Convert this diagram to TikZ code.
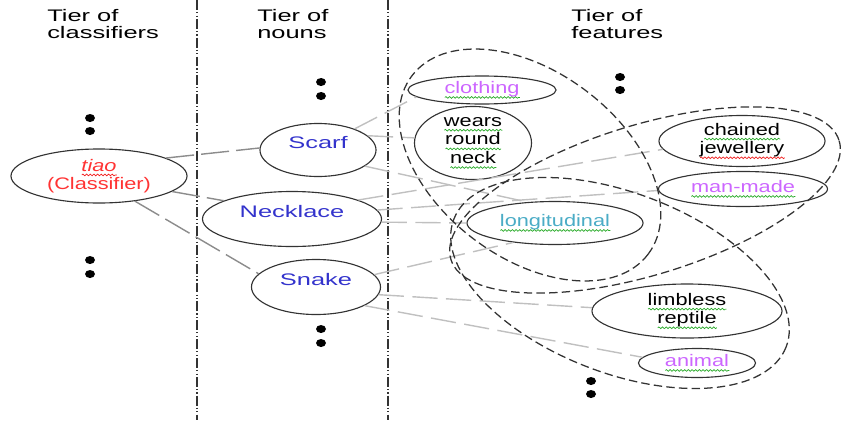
\documentclass[tikz,border=0pt]{standalone}
\usepackage{fontspec}
\setmainfont{Liberation Sans}[FakeStretch=1.52]
\newfontfamily\narrowfont{Liberation Sans}[FakeStretch=1.3]
\usepackage{xcolor}
\usepackage{tikz}
\usetikzlibrary{shapes.geometric,decorations.pathmorphing}

\definecolor{tiaored}{RGB}{255,51,51}
\definecolor{nounblue}{RGB}{51,51,204}
\definecolor{featviolet}{RGB}{204,102,255}
\definecolor{featteal}{RGB}{75,172,198}
\definecolor{wavegreen}{RGB}{40,170,40}
\definecolor{wavered}{RGB}{240,30,30}
\definecolor{rimgray}{RGB}{51,51,51}
\definecolor{linkgray}{RGB}{140,140,140}
\definecolor{featgray}{RGB}{192,192,192}

% spell-check style wavy underline
\newcommand\wavyword[2]{\setbox0\hbox{#2}\leavevmode\rlap{\tikz[baseline=0pt]\draw[#1, line width=0.5pt, decorate, decoration={snake, amplitude=0.6pt, segment length=2.6pt}] (0pt,-2.8pt) -- (\the\wd0,-2.8pt);}\box0}
\newcommand\gwave[1]{\wavyword{wavegreen}{#1}}
\newcommand\rwave[1]{\wavyword{wavered}{#1}}

\begin{document}
\begin{tikzpicture}[x=0.025cm, y=-0.025cm,
    every node/.style={font=\fontsize{11.9}{11.9}\selectfont},
    tier/.style={anchor=north west, align=left, inner sep=0pt},
    oval/.style={ellipse, draw=rimgray, line width=0.8pt, inner sep=0pt, align=center},
    feat/.style={oval, font=\fontsize{11.9}{11.9}\selectfont\narrowfont},
    noun/.style={oval, text=nounblue, text height=0.3cm, text depth=0.4cm},
    sepline/.style={draw=rimgray, line width=0.8pt, dash pattern=on 7pt off 1.5pt on 0.8pt off 1.8pt on 0.8pt off 1.5pt},
    classlink/.style={draw=linkgray, line width=1pt, dash pattern=on 20pt off 5pt},
    featlink/.style={draw=featgray, line width=1pt, dash pattern=on 18pt off 6pt},
    group/.style={draw=rimgray, line width=0.9pt, dash pattern=on 6pt off 3pt}]
    \useasboundingbox (0,0) rectangle (841,428);

    % tier headings and separators
    \node[tier] (tierC) at (47,9.5) {Tier of\\classifiers};
    \node[tier] (tierN) at (257,9.5) {Tier of\\nouns};
    \node[tier] (tierF) at (571,9.5) {Tier of\\features};
    \draw[sepline] (197,0) -- (197,420);
    \draw[sepline] (388,0) -- (388,420);

    % classifier and nouns
    \node[feat, text=tiaored, minimum width=4.4cm, minimum height=1.35cm] (tiao) at (99,176) {\rwave{\textit{tiao}}\\(Classifier)};
    \node[noun, minimum width=2.9cm, minimum height=1.325cm] (scarf) at (318,150) {Scarf};
    \node[noun, minimum width=4.475cm, minimum height=1.375cm] (necklace) at (292,219) {Necklace};
    \node[noun, minimum width=3.225cm, minimum height=1.375cm] (snake) at (316,287) {Snake};

    % features
    \node[feat, text=featviolet, minimum width=3.7cm, minimum height=0.7cm] (clothing) at (482,90) {\gwave{clothing}};
    \node[feat, minimum width=2.925cm, minimum height=1.825cm] (wears) at (473,143) {\gwave{wears}\\\gwave{round}\\\gwave{neck}};
    \node[feat, minimum width=4.15cm, minimum height=1.275cm] (chained) at (742,141) {\gwave{chained}\\\rwave{jewellery}};
    \node[feat, text=featviolet, minimum width=4.225cm, minimum height=0.875cm] (manmade) at (743,189) {\gwave{man-made}};
    \node[feat, text=featteal, minimum width=4.4cm, minimum height=1.075cm] (longitudinal) at (555,223) {\gwave{longitudinal}};
    \node[feat, minimum width=4.75cm, minimum height=1.35cm] (limbless) at (687,311) {\gwave{limbless}\\\gwave{reptile}};
    \node[feat, text=featviolet, minimum width=2.925cm, minimum height=0.725cm] (animal) at (697,363) {\gwave{animal}};

    % links
    \draw[classlink] (tiao.15) -- (scarf.178);
    \draw[classlink] (tiao.-12) -- (necklace.165);
    \draw[classlink] (tiao.-35) -- (snake.167);
    \draw[featlink] (scarf.30) -- (clothing.186);
    \draw[featlink] (scarf.16) -- (wears.175);
    \draw[featlink] (scarf.-19) -- (longitudinal.143);
    \draw[featlink] (necklace.16) -- (chained.186);
    \draw[featlink] (necklace.6) -- (manmade.181);
    \draw[featlink] (necklace.-2) -- (longitudinal.west);
    \draw[featlink] (snake.12) -- (longitudinal.205);
    \draw[featlink] (snake.-7) -- (limbless.178);
    \draw[featlink] (snake.-21) -- (animal.174);

    % feature groups
    \draw[group, rotate around={-37:(530,165)}] (530,165) ellipse [x radius=148, y radius=93];
    \draw[group, rotate around={17:(645,200)}] (645,200) ellipse [x radius=203, y radius=75];
    \draw[group, rotate around={-21:(620,283)}] (620,283) ellipse [x radius=178, y radius=90];

    % more items
    \fill (90,118) ellipse [x radius=5, y radius=4]; \fill (90,131) ellipse [x radius=5, y radius=4];
    \fill (90,260) ellipse [x radius=5, y radius=4]; \fill (90,274) ellipse [x radius=5, y radius=4];
    \fill (321,82) ellipse [x radius=5, y radius=4]; \fill (321,96) ellipse [x radius=5, y radius=4];
    \fill (321,329) ellipse [x radius=5, y radius=4]; \fill (321,343) ellipse [x radius=5, y radius=4];
    \fill (620,77) ellipse [x radius=5, y radius=4]; \fill (620,90) ellipse [x radius=5, y radius=4];
    \fill (591,381) ellipse [x radius=5, y radius=4]; \fill (591,394) ellipse [x radius=5, y radius=4];
\end{tikzpicture}
\end{document}
